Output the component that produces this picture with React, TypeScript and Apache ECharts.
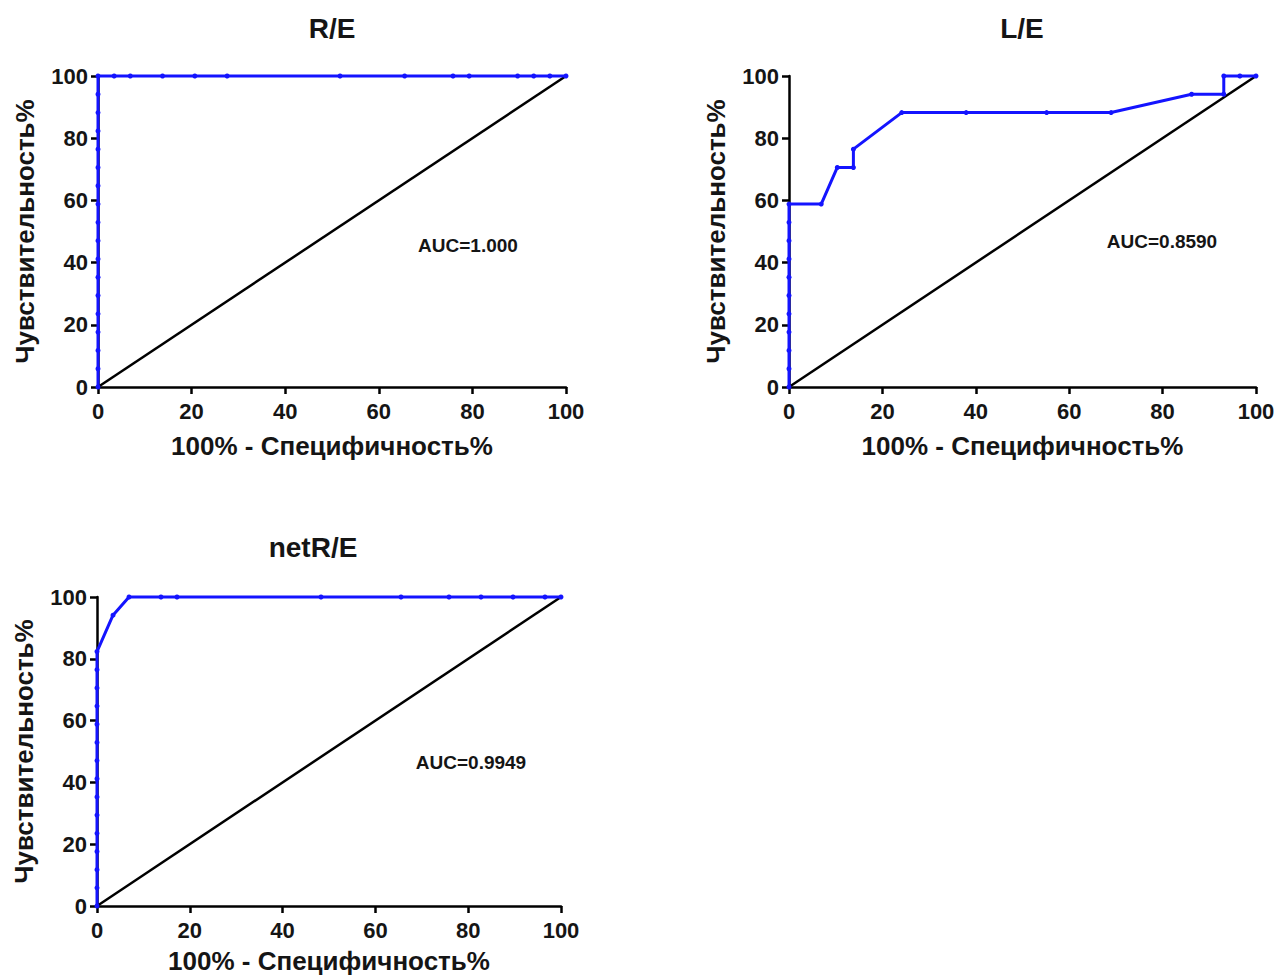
import React, { useEffect, useRef } from "react";
import * as echarts from "echarts";

const titles = ["R/E", "L/E", "netR/E"];
const aucTexts = ["AUC=1.000", "AUC=0.8590", "AUC=0.9949"];
const xAxisName = "100% - Специфичность%";
const yAxisName = "Чувствительность%";

// R/E
const reX = [0, 0, 0, 0, 0, 0, 0, 0, 0, 0, 0, 0, 0, 0, 0, 0, 0, 0, 3.45, 6.9, 13.79, 20.69, 27.59, 51.72, 65.52, 75.86, 79.31, 89.66, 93.1, 96.55, 100];
const reY = [0, 5.88, 11.76, 17.65, 23.53, 29.41, 35.29, 41.18, 47.06, 52.94, 58.82, 64.71, 70.59, 76.47, 82.35, 88.24, 94.12, 100, 100, 100, 100, 100, 100, 100, 100, 100, 100, 100, 100, 100, 100];

// L/E
const leX = [0, 0, 0, 0, 0, 0, 0, 0, 0, 0, 0, 6.9, 10.34, 13.79, 13.79, 24.14, 37.93, 55.17, 68.97, 86.21, 93.1, 93.1, 96.55, 100];
const leY = [0, 5.88, 11.76, 17.65, 23.53, 29.41, 35.29, 41.18, 47.06, 52.94, 58.82, 58.82, 70.59, 70.59, 76.47, 88.24, 88.24, 88.24, 88.24, 94.12, 94.12, 100, 100, 100];

// netR/E
const netX = [0, 0, 0, 0, 0, 0, 0, 0, 0, 0, 0, 0, 0, 0, 0, 3.45, 6.9, 13.79, 17.24, 48.28, 65.52, 75.86, 82.76, 89.66, 96.55, 100];
const netY = [0, 5.88, 11.76, 17.65, 23.53, 29.41, 35.29, 41.18, 47.06, 52.94, 58.82, 64.71, 70.59, 76.47, 82.35, 94.12, 100, 100, 100, 100, 100, 100, 100, 100, 100, 100];

const diagX = [0, 100];
const diagY = [0, 100];

const zip = (xs: number[], ys: number[]) => xs.map((x, i) => [x, ys[i]]);

const FONT = "Liberation Sans, Arial, sans-serif";

export default function App() {
  const ref = useRef<HTMLDivElement>(null);
  useEffect(() => {
    if (!ref.current) return;
    const chart = echarts.init(ref.current, null, { renderer: "svg" });
    const grids = [
      { left: 98, top: 76, width: 468, height: 311, outerBoundsMode: "none", containLabel: false },
      { left: 789, top: 76, width: 467, height: 311, outerBoundsMode: "none", containLabel: false },
      { left: 97, top: 597, width: 464, height: 309, outerBoundsMode: "none", containLabel: false },
    ];
    const nameGaps = [46, 46, 42];
    const datasets = [zip(reX, reY), zip(leX, leY), zip(netX, netY)];
    const axisLine = { show: true, onZero: false, lineStyle: { color: "#000", width: 2.5 } };
    const axisTick = { show: true, length: 7, lineStyle: { color: "#000", width: 2.5 } };
    const axisLabel = { color: "#151515", fontSize: 22, fontWeight: "bold" as const, fontFamily: FONT };
    const nameTextStyle = { color: "#151515", fontSize: 26, fontWeight: "bold" as const, fontFamily: FONT, lineHeight: 26 };
    const xAxes = grids.map((_, i) => ({
      type: "value",
      gridIndex: i,
      min: 0,
      max: 100,
      interval: 20,
      axisLine,
      axisTick,
      axisLabel: { ...axisLabel, margin: 13 },
      splitLine: { show: false },
      name: xAxisName,
      nameLocation: "middle",
      nameGap: nameGaps[i],
      nameTextStyle,
    }));
    const yAxes = grids.map((_, i) => ({
      type: "value",
      gridIndex: i,
      min: 0,
      max: 100,
      interval: 20,
      axisLine,
      axisTick,
      axisLabel: { ...axisLabel, margin: 10 },
      splitLine: { show: false },
      name: yAxisName,
      nameLocation: "middle",
      nameGap: 60,
      nameTextStyle,
    }));
    const series: any[] = [];
    grids.forEach((_, i) => {
      series.push({
        type: "line",
        xAxisIndex: i,
        yAxisIndex: i,
        data: zip(diagX, diagY),
        showSymbol: false,
        symbol: "none",
        lineStyle: { color: "#000", width: 2.5 },
        z: 2,
        clip: false,
      });
      series.push({
        type: "line",
        xAxisIndex: i,
        yAxisIndex: i,
        data: datasets[i],
        symbol: "circle",
        symbolSize: 5,
        itemStyle: { color: "#1414ff" },
        lineStyle: { color: "#1414ff", width: 3 },
        z: 3,
        clip: false,
      });
    });
    const titlePos = [
      [332, 28],
      [1022, 28],
      [313, 547],
    ];
    const aucPos = [
      [468, 245],
      [1162, 241],
      [471, 762],
    ];
    const graphic: any[] = [];
    titles.forEach((t, i) => {
      graphic.push({
        type: "text",
        x: titlePos[i][0],
        y: titlePos[i][1],
        style: {
          text: t,
          fill: "#151515",
          font: `bold 28px ${FONT}`,
          align: "center",
          verticalAlign: "middle",
        },
      });
      graphic.push({
        type: "text",
        x: aucPos[i][0],
        y: aucPos[i][1],
        style: {
          text: aucTexts[i],
          fill: "#151515",
          font: `bold 19px ${FONT}`,
          align: "center",
          verticalAlign: "middle",
        },
      });
    });
    chart.setOption({
      animation: false,
      backgroundColor: "#fff",
      grid: grids,
      xAxis: xAxes,
      yAxis: yAxes,
      series,
      graphic,
    });
    return () => chart.dispose();
  }, []);
  return (
    <div
      ref={ref}
      style={{ position: "fixed", left: 0, top: 0, width: 1274, height: 976, background: "#fff" }}
    />
  );
}
